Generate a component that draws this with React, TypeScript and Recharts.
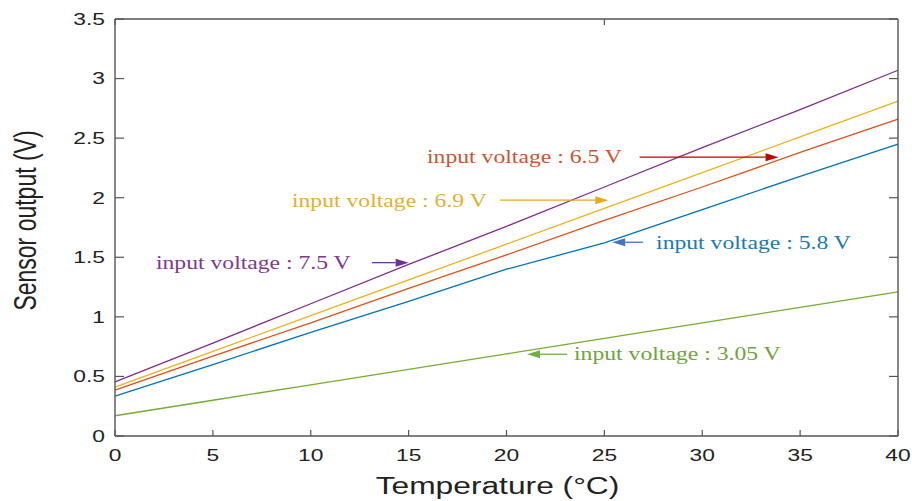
import React from 'react';
import { LineChart, Line, XAxis, YAxis, ReferenceLine } from 'recharts';

// temperature (°C) and sensor output (V) for each input voltage
const temps = [0, 5, 10, 15, 20, 25, 30, 35, 40];
const out75 = [0.455, 0.78, 1.11, 1.44, 1.76, 2.09, 2.42, 2.74, 3.07];
const out69 = [0.41, 0.71, 1.01, 1.31, 1.61, 1.91, 2.21, 2.51, 2.81];
const out65 = [0.385, 0.67, 0.95, 1.24, 1.52, 1.81, 2.09, 2.38, 2.66];
const out58 = [0.335, 0.6, 0.87, 1.13, 1.4, 1.62, 1.9, 2.18, 2.45];
const out305 = [0.17, 0.3, 0.43, 0.56, 0.69, 0.82, 0.95, 1.08, 1.21];

const xTicks = [0, 5, 10, 15, 20, 25, 30, 35, 40];
const yTicks = [0, 0.5, 1, 1.5, 2, 2.5, 3, 3.5];

const data = temps.map((t, i) => ({
  t,
  v75: out75[i],
  v69: out69[i],
  v65: out65[i],
  v58: out58[i],
  v305: out305[i],
}));

// text label + arrow, in data units
const notes = [
  { text: 'input voltage : 6.5 V', color: '#cc5530', arrow: '#c00000', tx: 15.94, ty: 2.292, ax1: 26.8, ax2: 33.9, ay: 2.34 },
  { text: 'input voltage : 6.9 V', color: '#e2b030', arrow: '#eaa91c', tx: 9.04, ty: 1.925, ax1: 19.67, ax2: 25.2, ay: 1.979 },
  { text: 'input voltage : 7.5 V', color: '#7e3a8e', arrow: '#7030a0', tx: 2.09, ty: 1.4, ax1: 13.13, ax2: 15.0, ay: 1.455 },
  { text: 'input voltage : 5.8 V', color: '#2279b0', arrow: '#4472c4', tx: 27.64, ty: 1.568, ax1: 26.97, ax2: 25.4, ay: 1.626 },
  { text: 'input voltage : 3.05 V', color: '#6ea43a', arrow: '#70ad47', tx: 23.45, ty: 0.638, ax1: 23.1, ax2: 21.05, ay: 0.686 },
];

const W = 912;
const H = 501;
const PLOT_LEFT = 115;
const PLOT_RIGHT = 898;
const PLOT_TOP = 19;
const PLOT_BOTTOM = 436;
const AXIS = '#555555';
const SANS = 'Arial, "Liberation Sans", Helvetica, sans-serif';
const SERIF = '"Times New Roman", "Liberation Serif", serif';
const STRETCH = 1.38;

const XTick = (props: any) => {
  const { x, y, payload } = props;
  return (
    <g transform={`translate(${x},${y})`}>
      <text transform={`scale(${STRETCH},1)`} textAnchor="middle" dy="0.71em" fontSize={16.5} fontFamily={SANS} fill="#222">
        {payload.value}
      </text>
    </g>
  );
};

const YTick = (props: any) => {
  const { x, y, payload } = props;
  return (
    <g transform={`translate(${x},${y})`}>
      <text transform={`scale(${STRETCH},1)`} textAnchor="end" dy="0.355em" fontSize={16.5} fontFamily={SANS} fill="#222">
        {payload.value}
      </text>
    </g>
  );
};

const NoTick = () => <g />;

const XTitle = () => (
  <g transform={`translate(${(PLOT_LEFT + PLOT_RIGHT) / 2 - 9},${PLOT_BOTTOM + 58})`}>
    <text transform={`scale(${STRETCH},1)`} textAnchor="middle" fontSize={23} fontFamily={SANS} fill="#222">
      Temperature (°C)
    </text>
  </g>
);

const YTitle = () => (
  <g transform={`translate(36,${(PLOT_TOP + PLOT_BOTTOM) / 2 - 7})`}>
    <text transform={`scale(${STRETCH},1) rotate(-90)`} textAnchor="middle" fontSize={23} fontFamily={SANS} fill="#222">
      Sensor output (V)
    </text>
  </g>
);

const arrowShape = (color: string) => (props: any) => {
  const { x1, y1, x2 } = props;
  const dir = x2 >= x1 ? 1 : -1;
  const head = 13;
  return (
    <g>
      <line x1={x1} y1={y1} x2={x2 - dir * head} y2={y1} stroke={color} strokeWidth={1.3} />
      <polygon points={`${x2},${y1} ${x2 - dir * head},${y1 - 4} ${x2 - dir * head},${y1 + 4}`} fill={color} />
    </g>
  );
};

const textShape = (text: string, color: string) => (props: any) => {
  const { x1, y1 } = props;
  return (
    <g transform={`translate(${x1},${y1})`}>
      <text transform="scale(1.28,1)" fontSize={18.5} fontFamily={SERIF} fill={color}>
        {text}
      </text>
    </g>
  );
};

export default function App() {
  return (
    <div style={{ position: 'absolute', left: 0, top: 0, width: W, height: H, background: '#fff' }}>
      <LineChart width={W} height={H} data={data} margin={{ top: 18, right: 13, bottom: 35, left: 45 }}>
        <XAxis
          type="number"
          dataKey="t"
          domain={[0, 40]}
          ticks={xTicks}
          height={30}
          axisLine={{ stroke: AXIS, strokeWidth: 1.4 }}
          tickLine={{ stroke: AXIS, strokeWidth: 1.2 }}
          tickSize={-6}
          tickMargin={19.5}
          tick={<XTick />}
          label={<XTitle />}
        />
        <XAxis
          xAxisId="top"
          orientation="top"
          type="number"
          domain={[0, 40]}
          ticks={xTicks}
          height={1}
          allowDataOverflow
          axisLine={{ stroke: AXIS, strokeWidth: 1.4 }}
          tickLine={{ stroke: AXIS, strokeWidth: 1.2 }}
          tickSize={-6}
          tick={NoTick}
        />
        <YAxis
          type="number"
          domain={[0, 3.5]}
          ticks={yTicks}
          width={70}
          axisLine={{ stroke: AXIS, strokeWidth: 1.4 }}
          tickLine={{ stroke: AXIS, strokeWidth: 1.2 }}
          tickSize={-9}
          tickMargin={19}
          tick={<YTick />}
          label={<YTitle />}
        />
        <YAxis
          yAxisId="right"
          orientation="right"
          type="number"
          domain={[0, 3.5]}
          ticks={yTicks}
          width={1}
          allowDataOverflow
          axisLine={{ stroke: AXIS, strokeWidth: 1.4 }}
          tickLine={{ stroke: AXIS, strokeWidth: 1.2 }}
          tickSize={-9}
          tick={NoTick}
        />

        <Line type="linear" dataKey="v75" stroke="#7E2F8E" strokeWidth={1.3} dot={false} isAnimationActive={false} />
        <Line type="linear" dataKey="v69" stroke="#EDB120" strokeWidth={1.3} dot={false} isAnimationActive={false} />
        <Line type="linear" dataKey="v65" stroke="#D95319" strokeWidth={1.3} dot={false} isAnimationActive={false} />
        <Line type="linear" dataKey="v58" stroke="#0072BD" strokeWidth={1.3} dot={false} isAnimationActive={false} />
        <Line type="linear" dataKey="v305" stroke="#77AC30" strokeWidth={1.3} dot={false} isAnimationActive={false} />

        {notes.map((n) => (
          <ReferenceLine
            key={n.text + '-arrow'}
            segment={[{ x: n.ax1, y: n.ay }, { x: n.ax2, y: n.ay }]}
            shape={arrowShape(n.arrow)}
          />
        ))}
        {notes.map((n) => (
          <ReferenceLine
            key={n.text + '-label'}
            segment={[{ x: n.tx, y: n.ty }, { x: n.tx, y: n.ty }]}
            shape={textShape(n.text, n.color)}
          />
        ))}
      </LineChart>
    </div>
  );
}
